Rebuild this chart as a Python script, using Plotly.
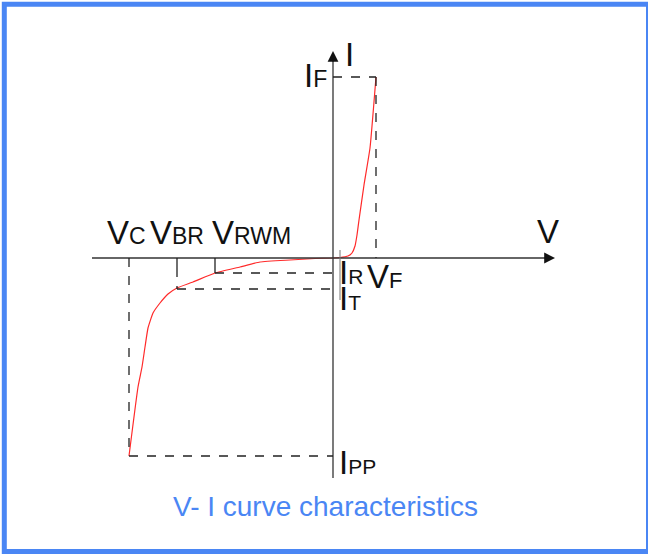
import plotly.graph_objects as go

# V-I curve of a TVS diode, in drawing units with the origin at (0, 0)
curve_v = [-204, -195, -191, -188, -185, -180, -173, -165, -156, -140, -118, -93, -73, -43, -18, 0,
           7, 15, 19, 22, 24, 26, 31, 37, 43]
curve_i = [-198, -129, -109, -89, -70, -55, -45, -36, -30, -24, -15, -9, -4, -2, -0.5, 0,
           0.5, 2, 5, 12, 23, 38, 73, 110, 181]

# characteristic points
v_c, v_br, v_rwm, v_f = -204, -156, -118, 43
i_r, i_t, i_pp, i_f = -15, -31, -198, 181

axis_v = [-241, 222]
axis_i = [-220, 207]

blue = "#4a86f4"
ink = "#111111"
font = "Liberation Sans, Arial, sans-serif"

fig = go.Figure()

fig.add_trace(go.Scatter(x=curve_v, y=curve_i, mode="lines",
                         line=dict(color="#ff2a2a", width=1.2, shape="spline", smoothing=0.4),
                         hoverinfo="skip"))

# axes
fig.add_shape(type="line", x0=axis_v[0], x1=axis_v[1] - 6, y0=0, y1=0,
              line=dict(color="#333", width=1.3))
fig.add_shape(type="line", x0=0, x1=0, y0=axis_i[0], y1=axis_i[1] - 6,
              line=dict(color="#333", width=1.3))
fig.add_annotation(x=axis_v[1], y=0, ax=axis_v[1] - 12, ay=0, axref="x", ayref="y",
                   showarrow=True, arrowhead=2, arrowsize=1.8, arrowwidth=1.2,
                   arrowcolor="#111", text="")
fig.add_annotation(x=0, y=axis_i[1], ax=0, ay=axis_i[1] - 12, axref="x", ayref="y",
                   showarrow=True, arrowhead=2, arrowsize=1.8, arrowwidth=1.2,
                   arrowcolor="#111", text="")

dash = dict(color="#222", width=1.3, dash="dash")
solid = dict(color="#222", width=1.3)

# dashed guides
fig.add_shape(type="line", x0=0, x1=v_f, y0=i_f, y1=i_f, line=dash)
fig.add_shape(type="line", x0=v_f, x1=v_f, y0=i_f, y1=0, line=dash)
fig.add_shape(type="line", x0=v_c, x1=v_c, y0=0, y1=i_pp, line=dash)
fig.add_shape(type="line", x0=v_c, x1=0, y0=i_pp, y1=i_pp, line=dash)
fig.add_shape(type="line", x0=v_br, x1=v_br, y0=0, y1=-10, line=solid)
fig.add_shape(type="line", x0=v_br, x1=v_br, y0=-10, y1=i_t, line=dash)
fig.add_shape(type="line", x0=v_br, x1=0, y0=i_t, y1=i_t, line=dash)
fig.add_shape(type="line", x0=v_rwm, x1=v_rwm, y0=0, y1=i_r, line=solid)
fig.add_shape(type="line", x0=v_rwm, x1=0, y0=i_r, y1=i_r, line=dash)
fig.add_shape(type="line", x0=7, x1=7, y0=8, y1=-42, line=dict(color="#777", width=1))


def label(x, y, main, sub="", size=33, subsize=23):
    text = main
    if sub:
        text += f'<span style="font-size:{subsize}px">{sub}</span>'
    fig.add_annotation(x=x, y=y, text=text, showarrow=False, xanchor="left",
                       yanchor="middle", xshift=-2, yshift=11,
                       font=dict(family=font, size=size, color=ink))


label(12, 193, "I")
label(-29, 172, "I", "F")
label(-226, 15, "V", "C")
label(-183, 15, "V", "BR")
label(-121, 15, "V", "RWM")
label(204, 16, "V")
label(6, -25, "I", "R", subsize=21)
label(34, -29, "V", "F", subsize=22)
label(6, -51, "I", "T", subsize=21)
label(6, -215, "I", "PP", subsize=21)

fig.add_annotation(x=325.5 / 648, y=1 - 506 / 554, xref="paper", yref="paper",
                   xanchor="center", yanchor="middle",
                   text="V- I curve characteristics", showarrow=False,
                   font=dict(family=font, size=28, color=blue))

# frame
fig.add_shape(type="rect", xref="paper", yref="paper",
              x0=4.3 / 648, x1=648.5 / 648, y0=1 - 551.5 / 554, y1=1 - 4.2 / 554,
              line=dict(color=blue, width=5))

fig.update_layout(
    width=648, height=554,
    margin=dict(l=0, r=0, t=0, b=0),
    paper_bgcolor="white", plot_bgcolor="white",
    showlegend=False,
    xaxis=dict(range=[-333, 315], visible=False, fixedrange=True),
    yaxis=dict(range=[-296, 258], visible=False, fixedrange=True),
)

fig.write_html("out.html", config={"displayModeBar": False},
               post_script="document.body.style.margin='0';document.body.style.overflow='hidden';")
